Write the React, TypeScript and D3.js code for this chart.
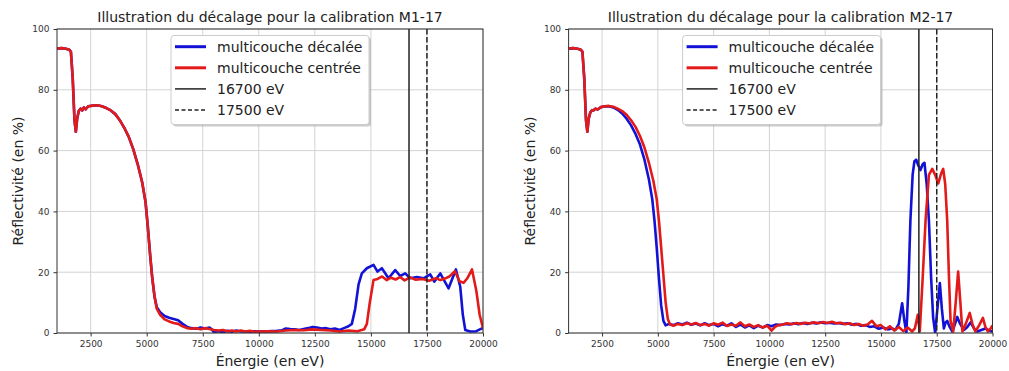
import * as d3 from 'd3';
import React, { useEffect, useRef } from 'react';

// Points [énergie (eV), réflectivité (%)]
const m1Decalee: [number, number][] = [
  [1000, 93.6], [1200, 93.7], [1400, 93.5], [1550, 93.2], [1620, 92.5], [1700, 84], [1780, 70], [1840, 66.2],
  [1900, 70.5], [1970, 73], [2050, 73.8], [2120, 73.2], [2200, 74.2], [2280, 73.6], [2400, 74.6], [2600, 74.8],
  [2800, 74.9], [3000, 74.6], [3200, 74], [3400, 73.2], [3600, 72], [3800, 70], [4000, 67.5], [4200, 64.5],
  [4400, 60.5], [4600, 55.5], [4800, 49.5], [4950, 43], [5050, 35], [5150, 26], [5250, 18], [5350, 12],
  [5450, 8.5], [5600, 6.8], [5800, 5.6], [6000, 5], [6200, 4.6], [6400, 4.2], [6600, 3], [6800, 2],
  [7000, 1.6], [7200, 1.4], [7400, 1.8], [7600, 1.5], [7800, 1.8], [7900, 1.2], [8000, 0.3], [8200, 0.6],
  [8400, 0.3], [8600, 0.7], [8800, 0.4], [9000, 0.8], [9200, 0.5], [9400, 0.6], [9600, 0.4], [9800, 0.6],
  [10000, 0.5], [10400, 0.6], [10800, 0.7], [11000, 0.8], [11200, 1.5], [11400, 1.3], [11600, 1.2], [11800, 1],
  [12000, 1.3], [12200, 1.6], [12400, 2], [12600, 1.8], [12800, 1.5], [13000, 1.6], [13200, 1.2], [13400, 1.5],
  [13600, 1], [13800, 1.6], [14000, 2.2], [14150, 3], [14300, 8], [14450, 16], [14596, 19.6], [14820, 21.3],
  [15117, 22.4], [15295, 20.2], [15489, 21.3], [15787, 18], [16084, 20.7], [16307, 18.75], [16530, 19.6],
  [16754, 18], [17051, 18.4], [17349, 18], [17646, 19.3], [17825, 16.9], [18093, 19.6], [18465, 14.7],
  [18792, 20.9], [18986, 15.2], [19100, 6], [19209, 1], [19432, 0.5], [19700, 0.6], [19953, 1.5], [20000, 1.6],
];

const m1Centree: [number, number][] = [
  [1000, 93.6], [1200, 93.7], [1400, 93.5], [1550, 93.2], [1620, 92.5], [1700, 84], [1780, 70], [1840, 66.2],
  [1900, 70.5], [1970, 73], [2050, 73.8], [2120, 73.2], [2200, 74.2], [2280, 73.6], [2400, 74.6], [2600, 74.8],
  [2800, 74.9], [3000, 74.6], [3200, 74], [3400, 73.2], [3600, 72], [3800, 70], [4000, 67.5], [4200, 64.5],
  [4400, 60.5], [4600, 55.5], [4800, 49.5], [4950, 43], [5050, 35], [5150, 26], [5250, 18], [5350, 12],
  [5450, 8], [5600, 6], [5800, 4.5], [6000, 3.8], [6200, 3.3], [6400, 3], [6600, 2.2], [6800, 1.6],
  [7000, 1.4], [7200, 1.6], [7400, 1.2], [7600, 1.6], [7800, 1.3], [8000, 1], [8200, 0.8], [8400, 1],
  [8600, 0.6], [8800, 0.8], [9000, 0.5], [9200, 0.8], [9400, 0.5], [9600, 0.7], [9800, 0.4], [10000, 0.5],
  [10400, 0.6], [10800, 0.5], [11200, 0.8], [11600, 1], [12000, 0.9], [12400, 1.2], [12800, 1], [13200, 0.8],
  [13600, 0.5], [14000, 0.8], [14400, 0.6], [14700, 1.2], [14820, 3], [14950, 10], [15117, 17.4], [15300, 17.8],
  [15500, 18.6], [15700, 17.4], [15900, 18.2], [16100, 17.6], [16300, 18.4], [16500, 17.3], [16750, 18.3],
  [17000, 17.5], [17300, 17.8], [17600, 17.2], [17900, 18], [18100, 17.4], [18300, 17.9], [18500, 18.6],
  [18750, 20.3], [18950, 17], [19130, 16.5], [19300, 18], [19510, 20.9], [19700, 14], [19850, 6], [19953, 3],
  [20000, 1.5],
];

const m2Decalee: [number, number][] = [
  [1000, 93.6], [1200, 93.7], [1400, 93.5], [1550, 93.2], [1620, 92.5], [1700, 84], [1780, 70], [1840, 66.2],
  [1900, 70.5], [1970, 72.5], [2050, 73.3], [2110, 73.2], [2200, 73.8], [2300, 73.5], [2450, 74.3], [2600, 74.5],
  [2800, 74.6], [3000, 74.2], [3200, 73.4], [3400, 72.2], [3600, 70.5], [3800, 68.3], [4000, 65.5], [4200, 62],
  [4400, 57], [4600, 50.5], [4750, 44], [4850, 37], [4950, 28], [5050, 18], [5150, 9], [5250, 4], [5350, 2.5],
  [5500, 3], [5700, 2.6], [5900, 3.2], [6100, 2.8], [6300, 3.4], [6500, 2.7], [6700, 3.1], [6900, 2.5],
  [7100, 3.2], [7300, 2.6], [7500, 3], [7700, 2.2], [7900, 2.9], [8100, 2.4], [8300, 3.2], [8500, 2],
  [8700, 2.8], [8900, 1.8], [9100, 2.5], [9300, 1.6], [9500, 2.4], [9700, 1.8], [9900, 2.6], [10100, 2.2],
  [10300, 2.8], [10500, 2.6], [10700, 3], [10900, 2.8], [11100, 3.2], [11300, 2.9], [11500, 3.3], [11700, 3],
  [11900, 3.4], [12100, 3.1], [12300, 3.5], [12500, 3.2], [12700, 3.4], [12900, 3.1], [13100, 3.3], [13300, 3],
  [13500, 3.2], [13700, 2.7], [13900, 3], [14100, 2.4], [14300, 2.6], [14500, 2], [14700, 2.2], [14900, 1.4],
  [15100, 1.8], [15300, 1.2], [15500, 1.5], [15650, 1], [15800, 3], [15950, 9.8], [16050, 4], [16140, 0],
  [16230, 15], [16320, 37], [16420, 52], [16500, 56.5], [16580, 57], [16680, 55], [16770, 53.6], [16870, 55.5],
  [16950, 56], [17050, 49], [17150, 37], [17250, 18], [17340, 5], [17430, 0], [17530, 8], [17640, 16.4],
  [17730, 8], [17820, 1.5], [17900, 3.5], [17970, 4], [18080, 2], [18200, 0.5], [18300, 2.5], [18420, 5.3],
  [18550, 3], [18720, 1], [18870, 2], [19020, 3.5], [19170, 1.5], [19320, 0.5], [19500, 1], [19690, 1.5],
  [19850, 0.8], [20000, 0.5],
];

const m2Centree: [number, number][] = [
  [1000, 93.6], [1200, 93.7], [1400, 93.5], [1550, 93.2], [1620, 92.5], [1700, 84], [1780, 70], [1840, 66.2],
  [1900, 70.5], [1970, 72.5], [2050, 73.3], [2110, 73.2], [2200, 73.8], [2300, 73.5], [2450, 74.3], [2600, 74.6],
  [2800, 74.7], [3000, 74.4], [3200, 73.8], [3400, 73], [3600, 71.8], [3800, 70], [4000, 67.8], [4200, 64.8],
  [4400, 61], [4600, 56], [4800, 50], [4950, 44], [5050, 37], [5150, 28], [5250, 19], [5350, 10], [5450, 4.5],
  [5550, 2.8], [5700, 2.4], [5900, 3], [6100, 2.6], [6300, 3.2], [6500, 2.8], [6700, 3.3], [6900, 2.6],
  [7100, 3], [7300, 2.4], [7500, 3.2], [7700, 2.7], [7900, 3.4], [8100, 2.3], [8300, 2.8], [8500, 2.4],
  [8700, 3.5], [8900, 2.2], [9100, 2.8], [9300, 2], [9500, 2.6], [9700, 1.8], [9900, 2.4], [10100, 0.8],
  [10250, 2], [10400, 2.6], [10600, 2.8], [10800, 3.2], [11000, 2.9], [11200, 3.3], [11400, 3], [11600, 3.4],
  [11800, 3.1], [12000, 3.5], [12200, 3.2], [12400, 3.6], [12600, 3.3], [12800, 3.7], [13000, 3.2], [13200, 3.4],
  [13400, 2.9], [13600, 3.2], [13800, 2.6], [14000, 3], [14200, 2.4], [14400, 2.8], [14600, 4], [14800, 2.2],
  [15000, 2.6], [15200, 1.2], [15400, 2.2], [15600, 0.8], [15800, 2], [16000, 0.6], [16200, 1.8], [16400, 0.5],
  [16520, 1.5], [16650, 6], [16740, 0.5], [16870, 18], [17000, 37], [17150, 52], [17300, 54], [17430, 52],
  [17570, 49.2], [17700, 52.5], [17790, 54], [17880, 49], [17970, 37], [18050, 18], [18120, 4], [18240, 0.5],
  [18350, 10], [18460, 20.2], [18560, 10], [18650, 0.5], [18800, 3], [18980, 6.6], [19100, 3], [19230, 0.5],
  [19400, 2.5], [19570, 5], [19680, 2], [19790, 0.5], [19920, 1.5], [20000, 2.5],
];

const titres = [
  'Illustration du décalage pour la calibration M1-17',
  'Illustration du décalage pour la calibration M2-17',
];
const legendeLabels = ['multicouche décalée', 'multicouche centrée', '16700 eV', '17500 eV'];
const energiesRef = [16700, 17500];
const xTicks = [2500, 5000, 7500, 10000, 12500, 15000, 17500, 20000];
const yTicks = [0, 20, 40, 60, 80, 100];

const BLEU = '#1212d6';
const ROUGE = '#e21a1a';
const FONT = "'DejaVu Sans', sans-serif";

const App: React.FC = () => {
  const ref = useRef<SVGSVGElement | null>(null);

  useEffect(() => {
    if (!ref.current) return;
    const svg = d3.select(ref.current);
    svg.selectAll('*').remove();
    svg.append('rect').attr('width', 1009).attr('height', 371).attr('fill', '#fff');

    const panels = [
      { left: 57, right: 483, titre: titres[0], dec: m1Decalee, cen: m1Centree },
      { left: 568.6, right: 992.5, titre: titres[1], dec: m2Decalee, cen: m2Centree },
    ];
    const top = 29;
    const bottom = 333;

    panels.forEach((p, i) => {
      const x = d3.scaleLinear().domain([1000, 20000]).range([p.left, p.right]);
      const y = d3.scaleLinear().domain([0, 100]).range([bottom, top]);
      const g = svg.append('g');

      // grille
      g.selectAll('line.gx')
        .data(xTicks)
        .enter()
        .append('line')
        .attr('x1', (d) => x(d))
        .attr('x2', (d) => x(d))
        .attr('y1', top)
        .attr('y2', bottom)
        .attr('stroke', '#d3d3d3')
        .attr('stroke-width', 1);
      g.selectAll('line.gy')
        .data(yTicks)
        .enter()
        .append('line')
        .attr('x1', p.left)
        .attr('x2', p.right)
        .attr('y1', (d) => y(d))
        .attr('y2', (d) => y(d))
        .attr('stroke', '#d3d3d3')
        .attr('stroke-width', 1);

      const clipId = `clip${i}`;
      svg
        .append('clipPath')
        .attr('id', clipId)
        .append('rect')
        .attr('x', p.left)
        .attr('y', top)
        .attr('width', p.right - p.left)
        .attr('height', bottom - top);

      const line = d3
        .line<[number, number]>()
        .x((d) => x(d[0]))
        .y((d) => y(d[1]));

      const curves = g.append('g').attr('clip-path', `url(#${clipId})`);
      curves
        .append('path')
        .datum(p.dec)
        .attr('fill', 'none')
        .attr('stroke', BLEU)
        .attr('stroke-width', 2.6)
        .attr('stroke-linejoin', 'round')
        .attr('d', line);
      curves
        .append('path')
        .datum(p.cen)
        .attr('fill', 'none')
        .attr('stroke', ROUGE)
        .attr('stroke-width', 2.6)
        .attr('stroke-linejoin', 'round')
        .attr('d', line);

      energiesRef.forEach((e, k) => {
        curves
          .append('line')
          .attr('x1', x(e))
          .attr('x2', x(e))
          .attr('y1', top)
          .attr('y2', bottom)
          .attr('stroke', '#222')
          .attr('stroke-width', 1.5)
          .attr('stroke-dasharray', k === 1 ? '5.5,2.5' : null);
      });

      // axes
      const xAxis = g
        .append('g')
        .attr('transform', `translate(0,${bottom})`)
        .call(d3.axisBottom(x).tickValues(xTicks).tickSize(3.5).tickPadding(4).tickFormat(d3.format('d')));
      const yAxis = g
        .append('g')
        .attr('transform', `translate(${p.left},0)`)
        .call(d3.axisLeft(y).tickValues(yTicks).tickSize(3.5).tickPadding(4));
      [xAxis, yAxis].forEach((a) => {
        a.select('.domain').remove();
        a.selectAll('line').attr('stroke', '#333');
        a.selectAll('text').attr('fill', '#333').style('font-family', FONT).style('font-size', '9px');
      });

      g.append('rect')
        .attr('x', p.left)
        .attr('y', top)
        .attr('width', p.right - p.left)
        .attr('height', bottom - top)
        .attr('fill', 'none')
        .attr('stroke', '#333')
        .attr('stroke-width', 1);

      // textes
      const cx = (p.left + p.right) / 2;
      g.append('text')
        .attr('x', cx)
        .attr('y', 22)
        .attr('text-anchor', 'middle')
        .style('font-family', FONT)
        .style('font-size', '14px')
        .attr('fill', '#222')
        .text(p.titre);
      g.append('text')
        .attr('x', cx)
        .attr('y', 366)
        .attr('text-anchor', 'middle')
        .style('font-family', FONT)
        .style('font-size', '14px')
        .attr('fill', '#222')
        .text('Énergie (en eV)');
      g.append('text')
        .attr('transform', `translate(${p.left - 34},${(top + bottom) / 2}) rotate(-90)`)
        .attr('text-anchor', 'middle')
        .style('font-family', FONT)
        .style('font-size', '14px')
        .attr('fill', '#222')
        .text('Réflectivité (en %)');

      // légende
      const lx = p.left + 114;
      const ly = 35.5;
      const lg = g.append('g');
      lg.append('rect')
        .attr('x', lx + 2)
        .attr('y', ly + 2)
        .attr('width', 198)
        .attr('height', 89)
        .attr('rx', 3)
        .attr('fill', '#999')
        .attr('opacity', 0.5);
      lg.append('rect')
        .attr('x', lx)
        .attr('y', ly)
        .attr('width', 198)
        .attr('height', 89)
        .attr('rx', 3)
        .attr('fill', '#fff')
        .attr('stroke', '#ccc');
      const styles = [
        { c: BLEU, w: 3, dash: null },
        { c: ROUGE, w: 3, dash: null },
        { c: '#222', w: 1.5, dash: null },
        { c: '#222', w: 1.5, dash: '4,2.5' },
      ];
      legendeLabels.forEach((lab, k) => {
        const yy = ly + 11.2 + k * 21.1;
        lg.append('line')
          .attr('x1', lx + 4)
          .attr('x2', lx + 35)
          .attr('y1', yy)
          .attr('y2', yy)
          .attr('stroke', styles[k].c)
          .attr('stroke-width', styles[k].w)
          .attr('stroke-dasharray', styles[k].dash);
        lg.append('text')
          .attr('x', lx + 46)
          .attr('y', yy + 5)
          .style('font-family', FONT)
          .style('font-size', '14px')
          .attr('fill', '#222')
          .text(lab);
      });
    });
  }, []);

  return (
    <svg
      ref={ref}
      width={1009}
      height={371}
      style={{ position: 'absolute', left: 0, top: 0 }}
    />
  );
};

export default App;
